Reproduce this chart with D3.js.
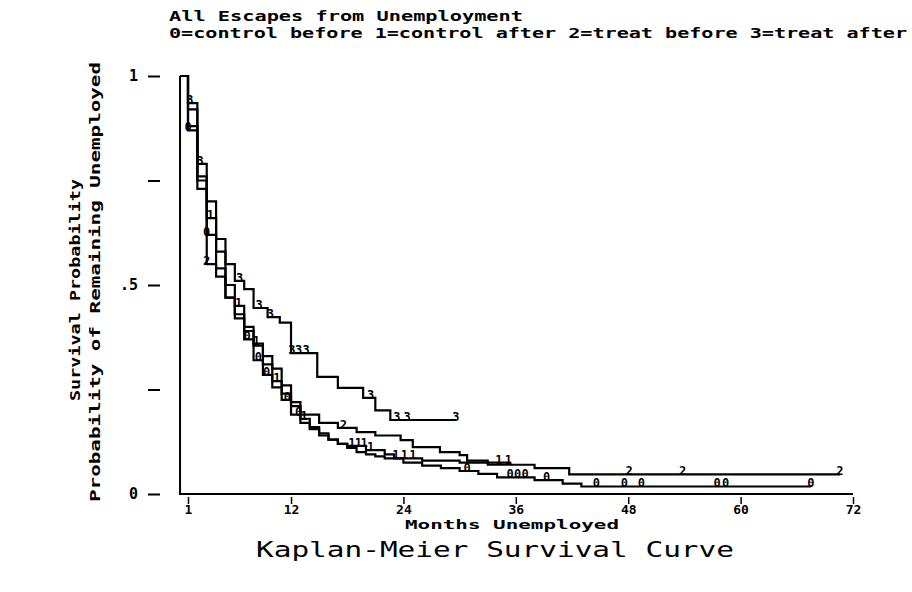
<!DOCTYPE html>
<html>
<head>
<meta charset="utf-8">
<script src="https://cdn.jsdelivr.net/npm/d3@7/dist/d3.min.js"></script>
<style>
  body { margin: 0; background: #fff; }
  text { font-family: 'DejaVu Sans Mono', monospace; fill: #000; }
</style>
</head>
<body>
<svg id="chart" width="912" height="592"></svg>
<script>
// 0=control before 1=control after 2=treat before 3=treat after
const times0 = [0, 1, 2, 3, 4, 5, 6, 7, 8, 9, 10, 11, 12, 13, 14, 15, 16, 17, 18, 19, 20, 21, 22, 24, 26, 28, 30, 32, 34, 38, 41, 43];
const surv0 = [1, 0.87, 0.73, 0.62, 0.54, 0.47, 0.42, 0.37, 0.32, 0.285, 0.255, 0.225, 0.19, 0.17, 0.155, 0.14, 0.13, 0.12, 0.11, 0.1, 0.095, 0.09, 0.085, 0.075, 0.068, 0.062, 0.055, 0.048, 0.04, 0.033, 0.025, 0.018];
const censor0 = [1.0, 3.0, 7.3, 8.5, 9.4, 11.6, 12.8, 30.8, 35.4, 36.2, 37, 39.3, 44.6, 47.6, 49.4, 57.5, 58.4, 67.5];
const end0 = 67.5;

const times1 = [0, 1, 2, 3, 4, 5, 6, 7, 8, 9, 10, 11, 12, 13, 14, 15, 16, 17, 18, 20, 22, 23, 26, 30];
const surv1 = [1, 0.92, 0.76, 0.66, 0.58, 0.5, 0.45, 0.4, 0.36, 0.31, 0.27, 0.24, 0.21, 0.18, 0.16, 0.145, 0.13, 0.12, 0.115, 0.105, 0.095, 0.085, 0.08, 0.075];
const censor1 = [3.4, 6.4, 8.3, 10.5, 13.4, 18.5, 19.2, 19.8, 20.5, 23.2, 24.1, 25, 34.2, 35.2];
const end1 = 35.5;

const times2 = [0, 1, 2, 3, 4, 5, 6, 7, 8, 9, 10, 11, 12, 13, 15, 17, 19, 21, 23.7, 25, 27.9, 30, 30.8, 33, 38, 41.7];
const surv2 = [1, 0.88, 0.75, 0.55, 0.52, 0.47, 0.43, 0.39, 0.355, 0.33, 0.3, 0.26, 0.22, 0.19, 0.17, 0.158, 0.148, 0.14, 0.129, 0.112, 0.1, 0.093, 0.08, 0.07, 0.062, 0.047];
const censor2 = [3.0, 17.6, 48.1, 53.8, 70.6];
const end2 = 70.6;

const times3 = [0, 1, 2, 3, 4, 5, 6, 7, 8, 9.5, 10.8, 12, 14.8, 17, 19.7, 21, 22.6];
const surv3 = [1, 0.935, 0.79, 0.7, 0.61, 0.55, 0.51, 0.49, 0.445, 0.423, 0.41, 0.337, 0.28, 0.254, 0.23, 0.2, 0.177];
const censor3 = [1.2, 2.3, 6.5, 8.6, 9.8, 12.1, 12.8, 13.6, 20.5, 23.3, 24.4, 29.6];
const end3 = 29.6;

const xTicks = [1, 12, 24, 36, 48, 60, 72];
const yTicks = [0, 0.25, 0.5, 0.75, 1];
const yTickLabels = ['0', '', '.5', '', '1'];

const titleLines = [
  'All Escapes from Unemployment',
  '0=control before 1=control after 2=treat before 3=treat after',
];

const groups = [
  { key: '0', times: times0, surv: surv0, censor: censor0, end: end0 },
  { key: '1', times: times1, surv: surv1, censor: censor1, end: end1 },
  { key: '2', times: times2, surv: surv2, censor: censor2, end: end2 },
  { key: '3', times: times3, surv: surv3, censor: censor3, end: end3 },
];

const svg = d3.select('#chart');
const x = d3.scaleLinear().domain([1, 72]).range([188, 853]);
const y = d3.scaleLinear().domain([0, 1]).range([494, 76]);

const survAt = (g, t) => g.surv[Math.max(0, d3.bisectRight(g.times, t) - 1)];

// titles
svg
  .append('text')
  .attr('x', 169)
  .attr('y', 21)
  .attr('font-size', 14)
  .attr('font-weight', 'bold')
  .attr('textLength', 354)
  .attr('lengthAdjust', 'spacingAndGlyphs')
  .text(titleLines[0]);
svg
  .append('text')
  .attr('x', 169)
  .attr('y', 38)
  .attr('font-size', 14)
  .attr('font-weight', 'bold')
  .attr('textLength', 738)
  .attr('lengthAdjust', 'spacingAndGlyphs')
  .text(titleLines[1]);

// y axis
const yAxis = d3
  .axisLeft(y)
  .tickValues(yTicks)
  .tickSize(12)
  .tickPadding(10)
  .tickFormat((d, i) => yTickLabels[i]);
const yg = svg
  .append('g')
  .attr('transform', 'translate(160,0)')
  .call(yAxis);
yg.select('.domain').remove();
yg.selectAll('line').attr('stroke', '#000').attr('stroke-width', 2);
yg.selectAll('text')
  .attr('font-size', 15)
  .attr('font-weight', 'bold')
  .attr('font-family', "'DejaVu Sans Mono', monospace");

// x axis
const xAxis = d3
  .axisBottom(x)
  .tickValues(xTicks)
  .tickSize(7)
  .tickPadding(1);
const xg = svg
  .append('g')
  .attr('transform', 'translate(0,497)')
  .call(xAxis);
xg.select('.domain').remove();
xg.selectAll('line').attr('stroke', '#000').attr('stroke-width', 1.5);
xg.selectAll('text')
  .attr('font-size', 13)
  .attr('font-weight', 'bold')
  .attr('font-family', "'DejaVu Sans Mono', monospace");

// frame lines
svg
  .append('path')
  .attr('fill', 'none')
  .attr('stroke', '#000')
  .attr('stroke-width', 2)
  .attr('d', d3.line()([[x(0.15), y(1)], [x(0.15), y(0)], [x(72), y(0)]]));

// axis titles
svg
  .append('text')
  .attr('text-anchor', 'middle')
  .attr('x', 512)
  .attr('y', 529)
  .attr('font-size', 13)
  .attr('font-weight', 'bold')
  .attr('textLength', 214)
  .attr('lengthAdjust', 'spacingAndGlyphs')
  .text('Months Unemployed');
svg
  .append('text')
  .attr('text-anchor', 'middle')
  .attr('x', 495)
  .attr('y', 557)
  .attr('font-size', 21)
  .attr('textLength', 478)
  .attr('lengthAdjust', 'spacingAndGlyphs')
  .text('Kaplan-Meier Survival Curve');
svg
  .append('text')
  .attr('text-anchor', 'middle')
  .attr('transform', 'translate(80,290) rotate(-90)')
  .attr('font-size', 14)
  .attr('font-weight', 'bold')
  .attr('textLength', 222)
  .attr('lengthAdjust', 'spacingAndGlyphs')
  .text('Survival Probability');
svg
  .append('text')
  .attr('text-anchor', 'middle')
  .attr('transform', 'translate(100,282) rotate(-90)')
  .attr('font-size', 14)
  .attr('font-weight', 'bold')
  .attr('textLength', 440)
  .attr('lengthAdjust', 'spacingAndGlyphs')
  .text('Probability of Remaining Unemployed');

// survival curves
const line = d3
  .line()
  .x(d => x(d[0]))
  .y(d => y(d[1]))
  .curve(d3.curveStepAfter);

const chart = svg.append('g');
groups.forEach(g => {
  const pts = g.times.map((t, i) => [Math.max(t, 0.15), g.surv[i]]);
  pts.push([g.end, g.surv[g.surv.length - 1]]);
  chart
    .append('path')
    .attr('fill', 'none')
    .attr('stroke', '#000')
    .attr('stroke-width', 2.2)
    .attr('d', line(pts));

  // censor markers
  chart
    .selectAll('.c' + g.key)
    .data(g.censor)
    .enter()
    .append('text')
    .attr('class', 'c' + g.key)
    .attr('text-anchor', 'middle')
    .attr('x', d => x(d))
    .attr('y', d => y(survAt(g, d)) + 1)
    .attr('font-size', 12)
    .attr('font-weight', 'bold')
    .text(g.key);
});
</script>
</body>
</html>
